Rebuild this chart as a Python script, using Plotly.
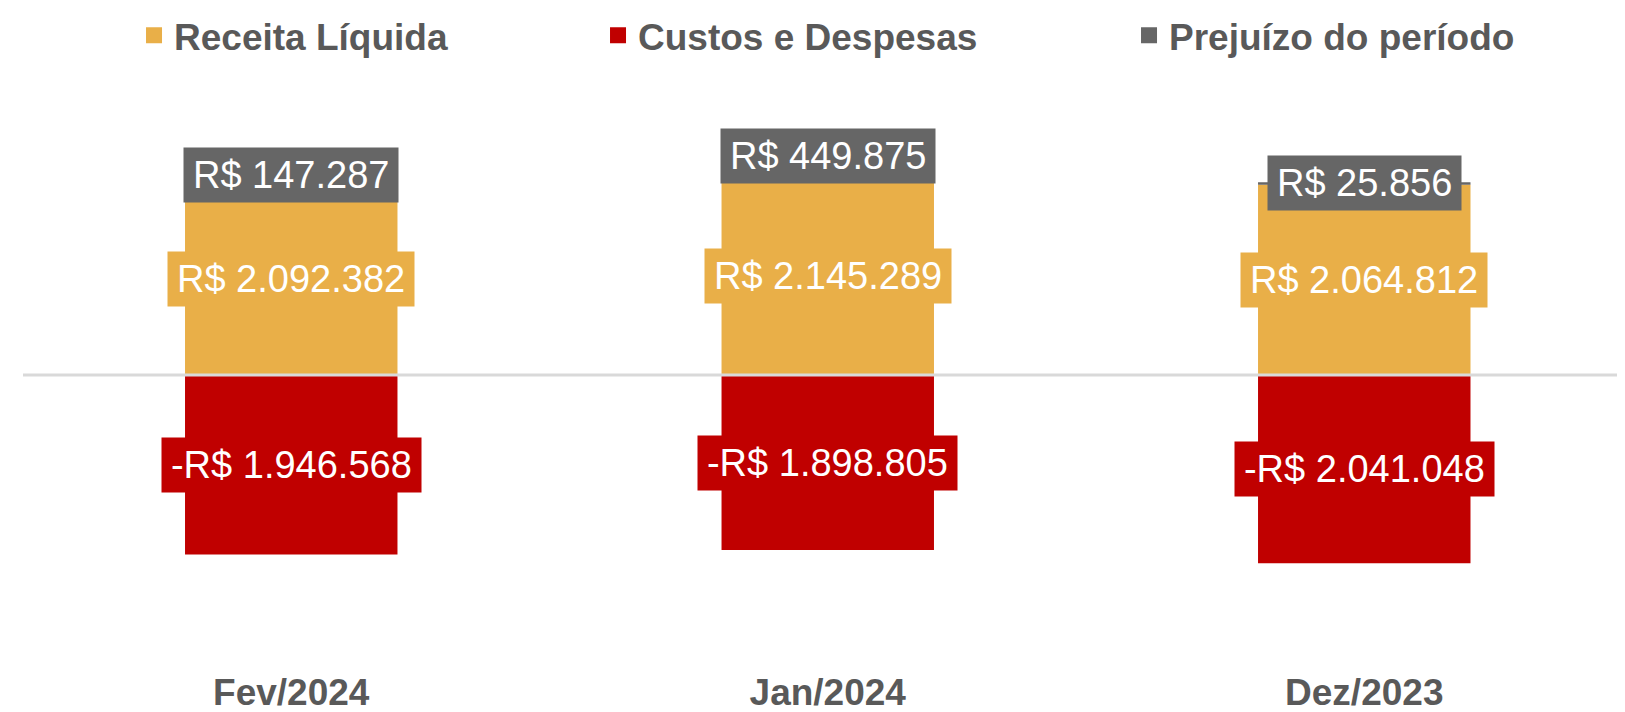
import plotly.graph_objects as go

categories = ["Fev/2024", "Jan/2024", "Dez/2023"]
receita = [2092382, 2145289, 2064812]
custos = [-1946568, -1898805, -2041048]
prejuizo = [147287, 449875, 25856]
series_names = ["Receita Líquida", "Custos e Despesas", "Prejuízo do período"]
colors = ["#E9AF48", "#C00000", "#666666"]
legend_widths = [419, 486, 370]

FONT = "Liberation Sans, Arial, sans-serif"
LABEL_SIZE = 38


def brl(v):
    s = f"{abs(v):,}".replace(",", ".")
    return ("-" if v < 0 else "") + "R$ " + s


CW = {d: 0.556 for d in "0123456789"}
CW.update({".": 0.278, " ": 0.278, "R": 0.722, "$": 0.556, "-": 0.333})


def text_w(s, size):
    return sum(CW.get(ch, 0.556) for ch in s) * size


fig = go.Figure()
for vals, name, col in zip([receita, custos, prejuizo], series_names, colors):
    fig.add_trace(go.Bar(x=categories, y=vals, name=name, showlegend=False,
                         marker=dict(color=col, line=dict(width=0)),
                         hoverinfo="skip"))
# legend entries (square markers)
for name, col, lw in zip(series_names, colors, legend_widths):
    fig.add_trace(go.Scatter(x=[None], y=[None], mode="markers", name=name,
                             marker=dict(symbol="square", size=20, color=col),
                             legendwidth=lw, hoverinfo="skip"))

annotations = []
for i, cat in enumerate(categories):
    items = [
        (receita[i] / 2, receita[i], colors[0]),
        (custos[i] / 2, custos[i], colors[1]),
        (receita[i] + prejuizo[i] / 2, prejuizo[i], colors[2]),
    ]
    for yc, val, col in items:
        txt = brl(val)
        annotations.append(dict(
            x=cat, y=yc, xref="x", yref="y", text=txt, showarrow=False,
            font=dict(family=FONT, size=LABEL_SIZE, color="white"),
            bgcolor=col, borderpad=6, width=text_w(txt, LABEL_SIZE) + 6,
            align="center", xanchor="center", yanchor="middle",
        ))

fig.update_layout(
    width=1617, height=704,
    margin=dict(l=15, r=0, t=72, b=42, autoexpand=False),
    paper_bgcolor="white", plot_bgcolor="white",
    barmode="relative", bargap=0.604,
    font=dict(family=FONT, color="#595959"),
    showlegend=True,
    legend=dict(orientation="h", x=0.0693, xanchor="left", y=1.075, yanchor="middle",
                font=dict(family=FONT, size=37, color="#595959", weight="bold"),
                bgcolor="rgba(0,0,0,0)", traceorder="normal"),
    xaxis=dict(range=[-0.5, 2.486], showgrid=False, showline=False, ticks="",
               zeroline=False, ticklabelstandoff=-3,
               tickfont=dict(family=FONT, size=37, color="#595959", weight="bold")),
    yaxis=dict(range=[-3.2e6, 3.2e6], visible=False, showgrid=False, zeroline=False),
    annotations=annotations,
    shapes=[dict(type="line", xref="paper", yref="y", x0=0, x1=1, y0=0, y1=0,
                 line=dict(color="#D9D9D9", width=3), layer="above")],
)

fig.write_html("out.html")
